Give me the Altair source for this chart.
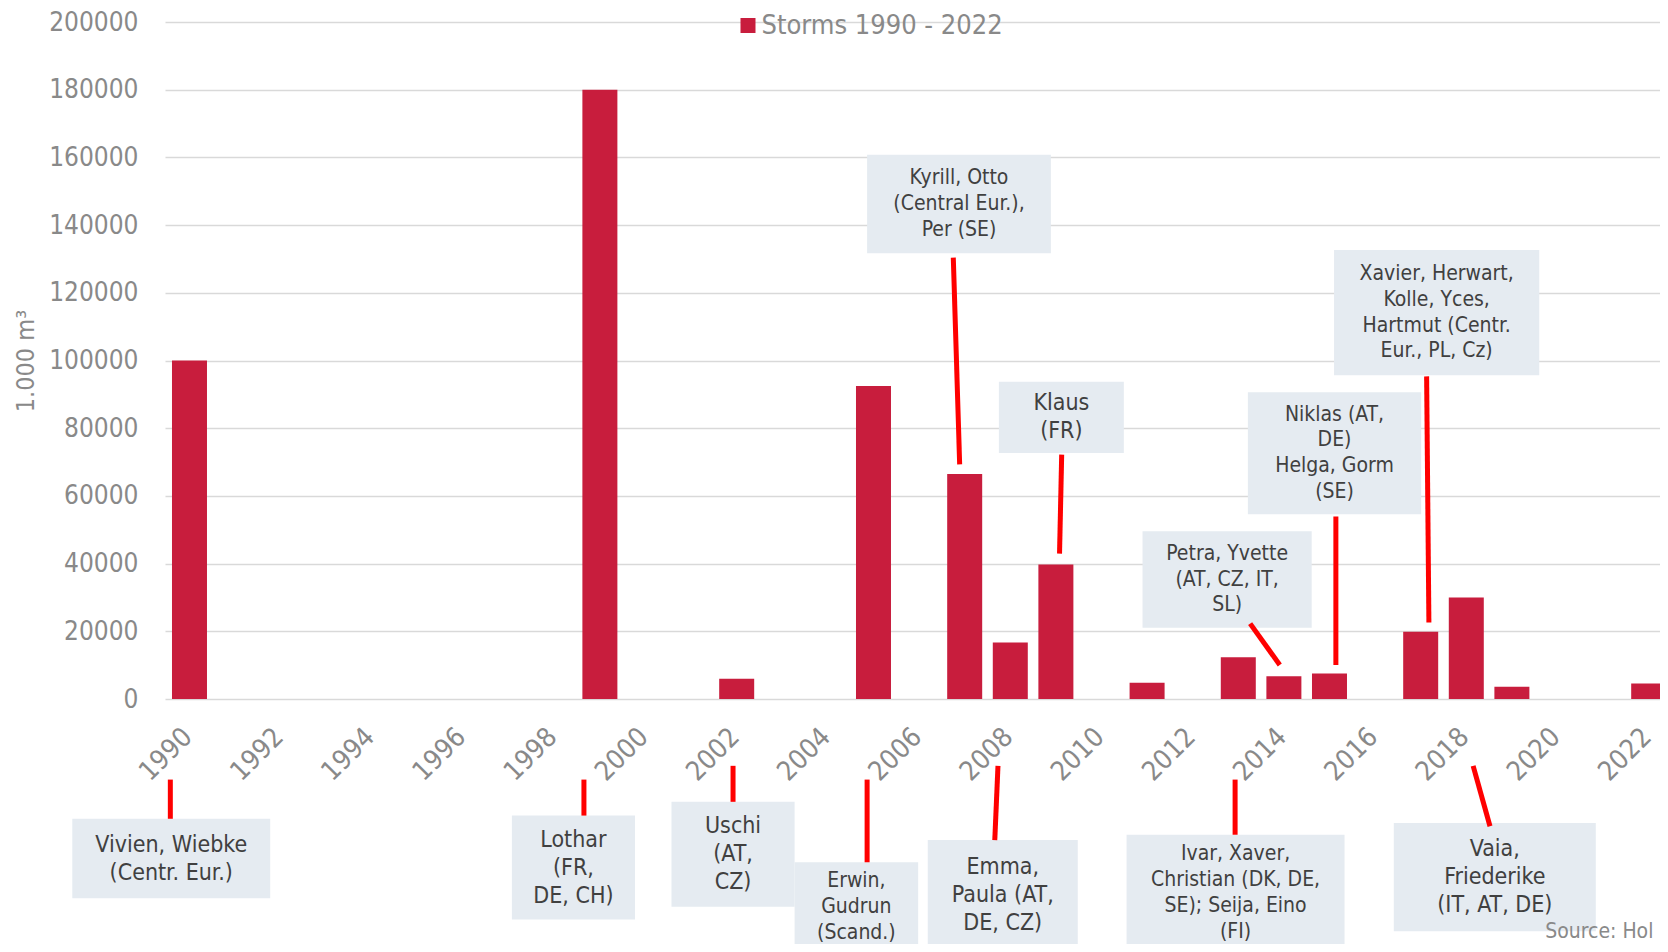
import altair as alt
import pandas as pd

# ---------------- data ----------------
YEARS = [1990, 1999, 2002, 2005, 2007, 2008, 2009, 2011, 2013, 2014, 2015, 2017, 2018, 2019, 2022]
VOLUMES = [100000, 180000, 6000, 92500, 66500, 16700, 39700, 4800, 12300, 6700, 7500, 19900, 30000, 3600, 4600]
SERIES = "Storms 1990 - 2022"
Y_TICKS = list(range(0, 200001, 20000))
X_TICKS = list(range(1990, 2023, 2))
Y_TITLE = "1.000 m³"
SOURCE = "Source: Hol"

# annotation boxes (text lines, extent in data units: year range and volume range)
NOTE_LINES = [
    ["Vivien, Wiebke", "(Centr. Eur.)"],
    ["Lothar", "(FR,", "DE, CH)"],
    ["Uschi", "(AT,", "CZ)"],
    ["Erwin,", "Gudrun", "(Scand.)"],
    ["Kyrill, Otto", "(Central Eur.),", "Per (SE)"],
    ["Emma,", "Paula (AT,", "DE, CZ)"],
    ["Klaus", "(FR)"],
    ["Ivar, Xaver,", "Christian (DK, DE,", "SE); Seija, Eino", "(FI)"],
    ["Petra, Yvette", "(AT, CZ, IT,", "SL)"],
    ["Niklas (AT,", "DE)", "Helga, Gorm", "(SE)"],
    ["Xavier, Herwart,", "Kolle, Yces,", "Hartmut (Centr.", "Eur., PL, Cz)"],
    ["Vaia,", "Friederike", "(IT, AT, DE)"],
]
NOTE_X1 = [1987.43, 1997.07, 2000.57, 2003.27, 2004.86, 2006.19, 2007.75, 2010.55, 2010.90, 2013.21, 2015.10, 2016.41]
NOTE_X2 = [1991.77, 1999.77, 2003.27, 2005.98, 2008.89, 2009.48, 2010.49, 2015.33, 2014.61, 2017.01, 2019.60, 2020.84]
NOTE_TOP = [-35386, -34443, -30377, -48233, 160815, -41662, 93696, -40100, 49558, 90602, 132618, -36653]
NOTE_BOTTOM = [-58899, -65175, -61403, -74500, 131675, -73955, 72688, -74500, 21037, 54567, 95611, -68623]
NOTE_LARGE = [True, True, True, False, False, True, True, False, False, False, False, True]

# connector lines (data units)
LINK_X1 = [1989.58, 1998.65, 2001.92, 2004.86, 2006.75, 2007.73, 2009.127, 2012.93, 2013.26, 2015.14, 2017.13, 2018.15]
LINK_Y1 = [-23807, -23807, -19741, -23807, 130408, -19741, 72187, -23807, 22275, 53919, 95317, -19741]
LINK_X2 = [1989.58, 1998.65, 2001.92, 2004.86, 2006.89, 2007.66, 2009.08, 2012.93, 2013.91, 2015.14, 2017.18, 2018.52]
LINK_Y2 = [-35386, -34443, -30377, -48233, 69299, -41662, 42958, -40100, 10047, 10047, 22599, -37596]

SOURCE_X, SOURCE_Y = 2019.73, -65700

# ---------------- style / layout ----------------
FONT = "DejaVu Sans Condensed"
GREY = "#898989"
NOTE_COLOR = "#404040"
BAR_COLOR = "#C81D3D"
BOX_COLOR = "#E5EBF1"
LINK_COLOR = "#FF0000"
GRID_COLOR = "#D9D9D9"

PLOT_W, PLOT_H = 1495, 677.0
PAD = {"left": 157, "top": 14.0, "right": 0, "bottom": 245}
VALUE_PER_PX = 200000 / PLOT_H

xscale = alt.Scale(domain=[1989.463, 2022.248], nice=False, zero=False, padding=0)
yscale = alt.Scale(domain=[0, 200000], nice=False, zero=False, padding=0)

xaxis = alt.Axis(
    values=X_TICKS, format="d", labelAngle=-45, labelAlign="right", labelBaseline="middle",
    labelPadding=33.5, labelOffset=-2, ticks=False, tickSize=0, domain=False, grid=False,
    labelFontSize=27, labelColor=GREY, labelFont=FONT, title=None, labelOverlap=False,
    labelFlush=False, labelBound=False)
yaxis = alt.Axis(
    values=Y_TICKS, format="d", grid=True, gridColor=GRID_COLOR, gridWidth=1.5, domain=False,
    ticks=False, tickSize=0, labelPadding=27, labelFontSize=26, labelColor=GREY, labelFont=FONT,
    title=Y_TITLE, titleFontSize=25, titleColor=GREY, titleFont=FONT, titleFontWeight="normal",
    titlePadding=10, labelOverlap=False, labelFlush=False)

bars_df = pd.DataFrame({"year": YEARS, "volume": VOLUMES, "series": SERIES})
boxes_df = pd.DataFrame({"x1": NOTE_X1, "x2": NOTE_X2, "top": NOTE_TOP, "bottom": NOTE_BOTTOM})

rows = []
for lines, x1, x2, top, bottom, large in zip(NOTE_LINES, NOTE_X1, NOTE_X2, NOTE_TOP, NOTE_BOTTOM, NOTE_LARGE):
    fs = 23 if large else 21
    step_px = 28 if large else 25.8
    cx = (x1 + x2) / 2
    cy = (top + bottom) / 2
    n = len(lines)
    for i, t in enumerate(lines):
        rows.append({"x": cx, "y": cy - (i - (n - 1) / 2) * step_px * VALUE_PER_PX, "text": t, "fs": fs})
text_df = pd.DataFrame(rows)

links_df = pd.DataFrame({"x1": LINK_X1, "y1": LINK_Y1, "x2": LINK_X2, "y2": LINK_Y2})
source_df = pd.DataFrame({"x": [SOURCE_X], "y": [SOURCE_Y], "text": [SOURCE]})

bars = alt.Chart(bars_df).mark_bar(size=35).encode(
    x=alt.X("year:Q", scale=xscale, axis=xaxis),
    y=alt.Y("volume:Q", scale=yscale, axis=yaxis),
    color=alt.Color("series:N", scale=alt.Scale(domain=[SERIES], range=[BAR_COLOR]), legend=alt.Legend(
        title=None, orient="none", legendX=569.5, legendY=-10, symbolType="square", symbolSize=225,
        symbolStrokeWidth=0, labelFontSize=27, labelColor=GREY, labelFont=FONT, labelOffset=0,
        labelLimit=600, padding=0, offset=0)),
)

boxes = alt.Chart(boxes_df).mark_rect(color=BOX_COLOR).encode(
    x=alt.X("x1:Q", scale=xscale, axis=xaxis), x2="x2",
    y=alt.Y("top:Q", scale=yscale, axis=yaxis), y2="bottom",
)

texts = alt.Chart(text_df).mark_text(align="center", baseline="middle", font=FONT, color=NOTE_COLOR).encode(
    x=alt.X("x:Q", scale=xscale, axis=xaxis),
    y=alt.Y("y:Q", scale=yscale, axis=yaxis),
    text="text:N",
    size=alt.Size("fs:Q", scale=None, legend=None),
)

links = alt.Chart(links_df).mark_rule(color=LINK_COLOR, strokeWidth=5).encode(
    x=alt.X("x1:Q", scale=xscale, axis=xaxis), x2="x2",
    y=alt.Y("y1:Q", scale=yscale, axis=yaxis), y2="y2",
)

source = alt.Chart(source_df).mark_text(align="left", baseline="top", font=FONT, fontSize=21, color=GREY).encode(
    x=alt.X("x:Q", scale=xscale, axis=xaxis),
    y=alt.Y("y:Q", scale=yscale, axis=yaxis),
    text="text:N",
)

chart = alt.layer(bars, boxes, texts, links, source).properties(
    width=PLOT_W, height=PLOT_H, padding=PAD,
    autosize=alt.AutoSizeParams(type="none"),
    background="white",
).configure_view(stroke=None)

chart.save("out.html", embed_options={"renderer": "svg", "actions": False})
